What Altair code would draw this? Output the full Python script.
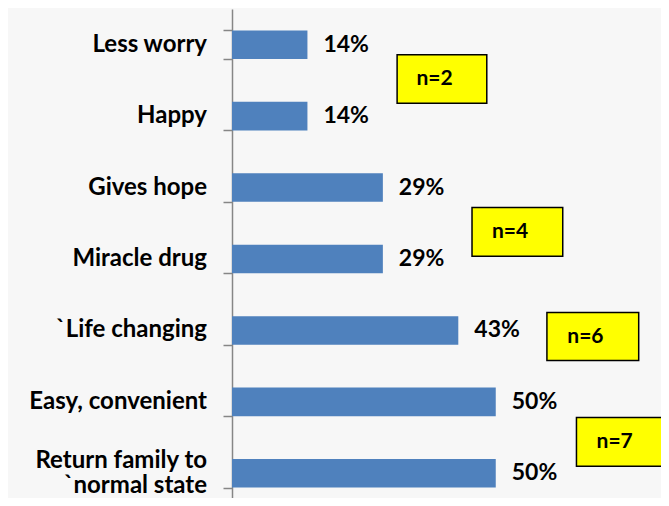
import altair as alt
import pandas as pd

categories = ["Less worry", "Happy", "Gives hope", "Miracle drug",
              "`Life changing", "Easy, convenient", "Return family to|`normal state"]
values = [14.3, 14.3, 28.6, 28.6, 42.9, 50.0, 50.0]
value_labels = ["14%", "14%", "29%", "29%", "43%", "50%", "50%"]

box_labels = ["n=2", "n=4", "n=6", "n=7"]
box_x1 = [31.3, 45.5, 59.7, 65.3]
box_x2 = [48.3, 62.7, 77.1, 82.6]
box_y1 = [0.64, 2.78, 4.25, 5.72]
box_y2 = [1.32, 3.46, 4.92, 6.40]

FONT = "Lato"
BAR_COLOR = "#4F81BD"
AXIS_GRAY = "#868686"
RANGE_PX = 500
LINE_H = 25

bars_df = pd.DataFrame({"cat": categories, "val": values, "lab": value_labels})
boxes_df = pd.DataFrame({"n": box_labels, "x1": box_x1, "x2": box_x2,
                         "y1": box_y1, "y2": box_y2})
boxes_df["xc"] = (boxes_df["x1"] + boxes_df["x2"]) / 2 - 1.4
boxes_df["yc"] = (boxes_df["y1"] + boxes_df["y2"]) / 2

# category label lines, placed in band units (one unit per category)
rows = []
step = RANGE_PX / len(categories)
for i, c in enumerate(categories):
    parts = c.split("|")
    for j, p in enumerate(parts):
        rows.append({"line": p, "x0": 0,
                     "yy": i + 0.5 + (j - (len(parts) - 1) / 2) * LINE_H / step})
labels_df = pd.DataFrame(rows)

xscale = alt.Scale(domain=[0, 80], nice=False)
band = alt.Scale(domain=categories, range=[0, RANGE_PX], paddingInner=0.6, paddingOuter=0.3)
qy = alt.Scale(domain=[0, len(categories)], range=[0, RANGE_PX], nice=False, zero=False)

bars = alt.Chart(bars_df).mark_bar(color=BAR_COLOR).encode(
    x=alt.X("val:Q", scale=xscale, axis=None),
    y=alt.Y("cat:N", scale=band, sort=categories, title=None,
            axis=alt.Axis(labels=False,
                          tickBand="extent", tickSize=9, tickColor=AXIS_GRAY,
                          tickWidth=1.5, domainColor=AXIS_GRAY, domainWidth=1.5,
                          grid=False)),
)

vtext = alt.Chart(bars_df).mark_text(
    align="left", baseline="middle", dx=16, font=FONT, fontSize=23,
    fontWeight="bold", color="black"
).encode(
    x=alt.X("val:Q", scale=xscale, axis=None),
    y=alt.Y("cat:N", scale=band, sort=categories, axis=None),
    text="lab:N",
)

ytext = alt.Chart(labels_df).mark_text(
    align="right", baseline="middle", dx=-25, font=FONT, fontSize=24,
    fontWeight="bold", color="black"
).encode(
    x=alt.X("x0:Q", scale=xscale, axis=None),
    y=alt.Y("yy:Q", scale=qy, axis=None),
    text="line:N",
)

rects = alt.Chart(boxes_df).mark_rect(
    fill="#FFFF00", stroke="black", strokeWidth=1.5
).encode(
    x=alt.X("x1:Q", scale=xscale, axis=None),
    x2="x2:Q",
    y=alt.Y("y1:Q", scale=qy, axis=None),
    y2="y2:Q",
)

ntext = alt.Chart(boxes_df).mark_text(
    align="center", baseline="middle", font=FONT, fontSize=21,
    fontWeight="bold", color="black"
).encode(
    x=alt.X("xc:Q", scale=xscale, axis=None),
    y=alt.Y("yc:Q", scale=qy, axis=None),
    text="n:N",
)

chart = alt.layer(bars, vtext, ytext, rects, ntext).resolve_scale(
    y="independent"
).properties(
    width=422, height=489,
    autosize=alt.AutoSizeParams(type="none"),
    padding={"left": 224, "top": 1, "right": 7, "bottom": 0},
    background="#f7f7f7",
).configure_view(stroke=None)

chart.save("out.html", embed_options={"renderer": "svg", "actions": False})
